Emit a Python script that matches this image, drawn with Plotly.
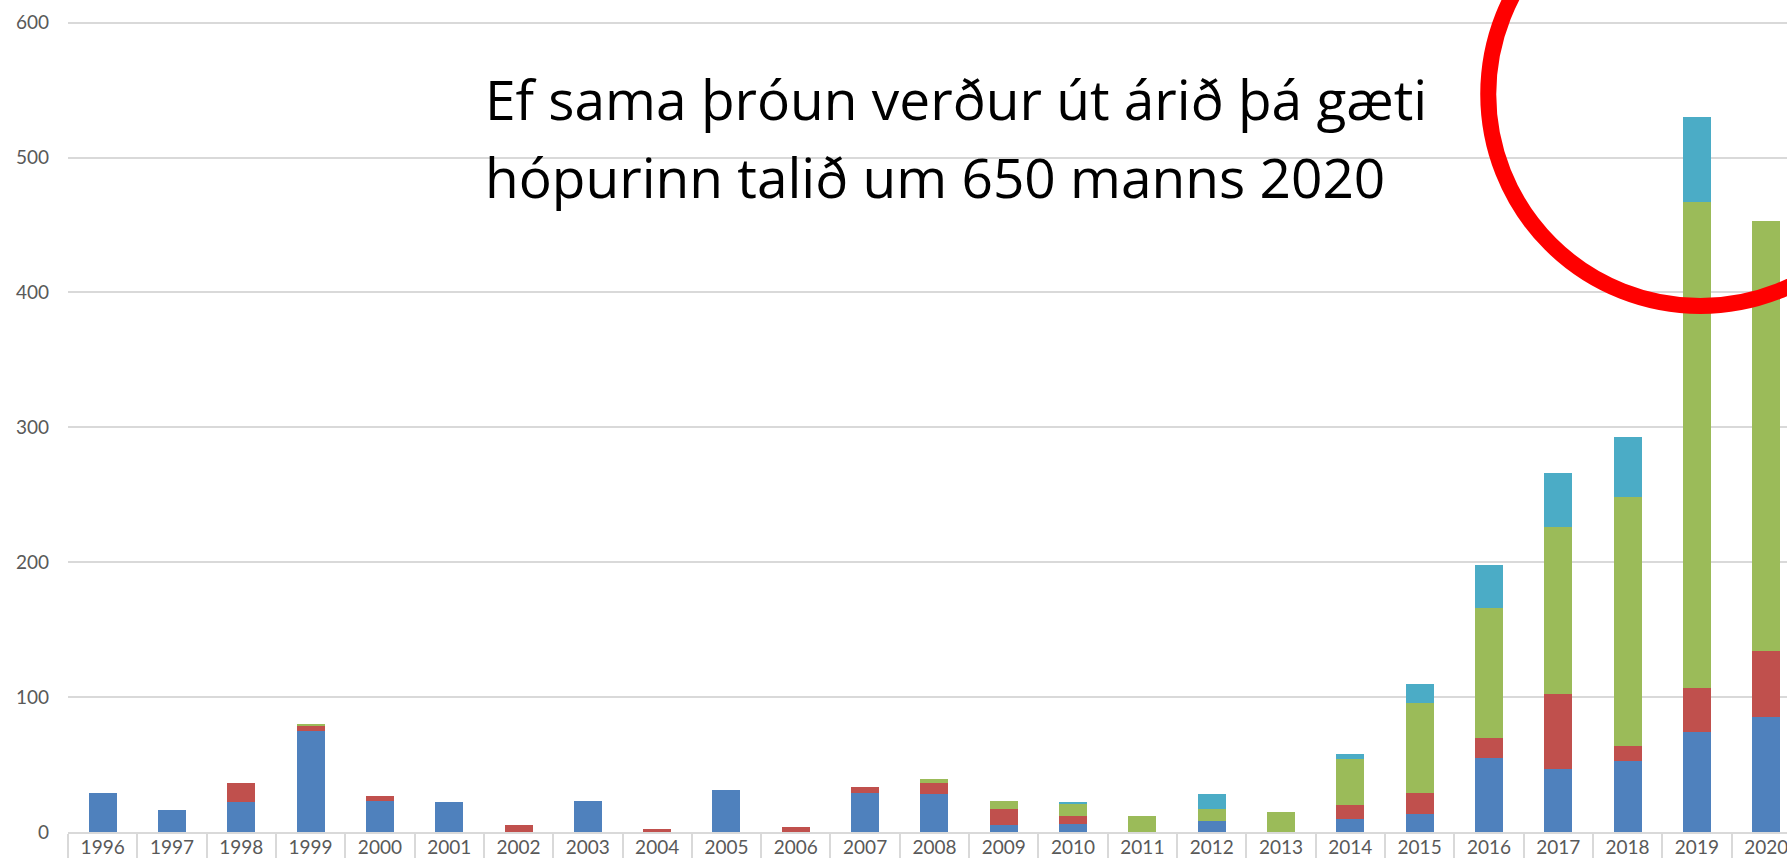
import plotly.graph_objects as go

years = [str(y) for y in range(1996, 2021)]
blue  = [29, 16, 22, 75, 23, 22, 0, 23, 0, 31, 0, 29, 28, 5, 6, 0, 8, 0, 10, 13, 55, 47, 53, 74, 85]
red   = [0, 0, 14, 4, 4, 0, 5, 0, 2, 0, 4, 4, 8, 12, 6, 0, 0, 0, 10, 16, 15, 55, 11, 33, 49]
green = [0, 0, 0, 1, 0, 0, 0, 0, 0, 0, 0, 0, 3, 6, 9, 12, 9, 15, 34, 67, 96, 124, 184, 360, 319]
teal  = [0, 0, 0, 0, 0, 0, 0, 0, 0, 0, 0, 0, 0, 0, 1, 0, 11, 0, 4, 14, 32, 40, 45, 63, 0]

series = [("A", blue, "#4F81BD"), ("B", red, "#C0504D"),
          ("C", green, "#9BBB59"), ("D", teal, "#4BACC6")]

fig = go.Figure()
for name, vals, col in series:
    fig.add_trace(go.Bar(x=years, y=vals, name=name, marker_color=col,
                         marker_line_width=0))

W, H = 1787, 858
ml, mr, mt, mb = 68, 0, 0, 26
top_val = 600 * (832 - 0) / (832 - 22.7)

fig.update_layout(
    width=W, height=H, barmode="stack", bargap=0.596,
    margin=dict(l=ml, r=mr, t=mt, b=mb),
    plot_bgcolor="white", paper_bgcolor="white",
    showlegend=False,
    font=dict(family="Lato", size=19, color="#595959"),
)
fig.update_xaxes(type="category", range=[-0.5, 24.3],
                 showline=True, linecolor="#d9d9d9", linewidth=1.5,
                 ticks="outside", tickson="boundaries", ticklen=26,
                 tickcolor="#d9d9d9", tickwidth=1.5,
                 ticklabelstandoff=-3, showgrid=False)
fig.update_yaxes(range=[0, top_val], tickvals=[0, 100, 200, 300, 400, 500, 600],
                 showgrid=True, gridcolor="#d9d9d9", gridwidth=1.5,
                 zeroline=False, ticks="", ticklabelstandoff=18)

# red ring (decoration) centred near the 2019 bar
cx, cy, rx, ry = 23.05, 547, 3.06, 157
fig.add_shape(type="circle", xref="x", yref="y",
              x0=cx - rx, x1=cx + rx, y0=cy - ry, y1=cy + ry,
              line=dict(color="#FF0000", width=16))

pw = W - ml - mr
ph = H - mt - mb
def px(x):
    return (x - ml) / pw
def py(y):
    return (H - mb - y) / ph

fig.add_annotation(text="Ef sama þróun verður út árið þá gæti", xref="paper", yref="paper",
                   x=px(483), y=py(98), xanchor="left", yanchor="middle",
                   showarrow=False, font=dict(family="Open Sans", size=55, color="black"))
fig.add_annotation(text="hópurinn talið um 650 manns 2020", xref="paper", yref="paper",
                   x=px(483), y=py(176), xanchor="left", yanchor="middle",
                   showarrow=False, font=dict(family="Open Sans", size=55, color="black"))

fig.write_html("out.html", config={"displayModeBar": False},
               post_script="document.body.style.margin='0px';")
